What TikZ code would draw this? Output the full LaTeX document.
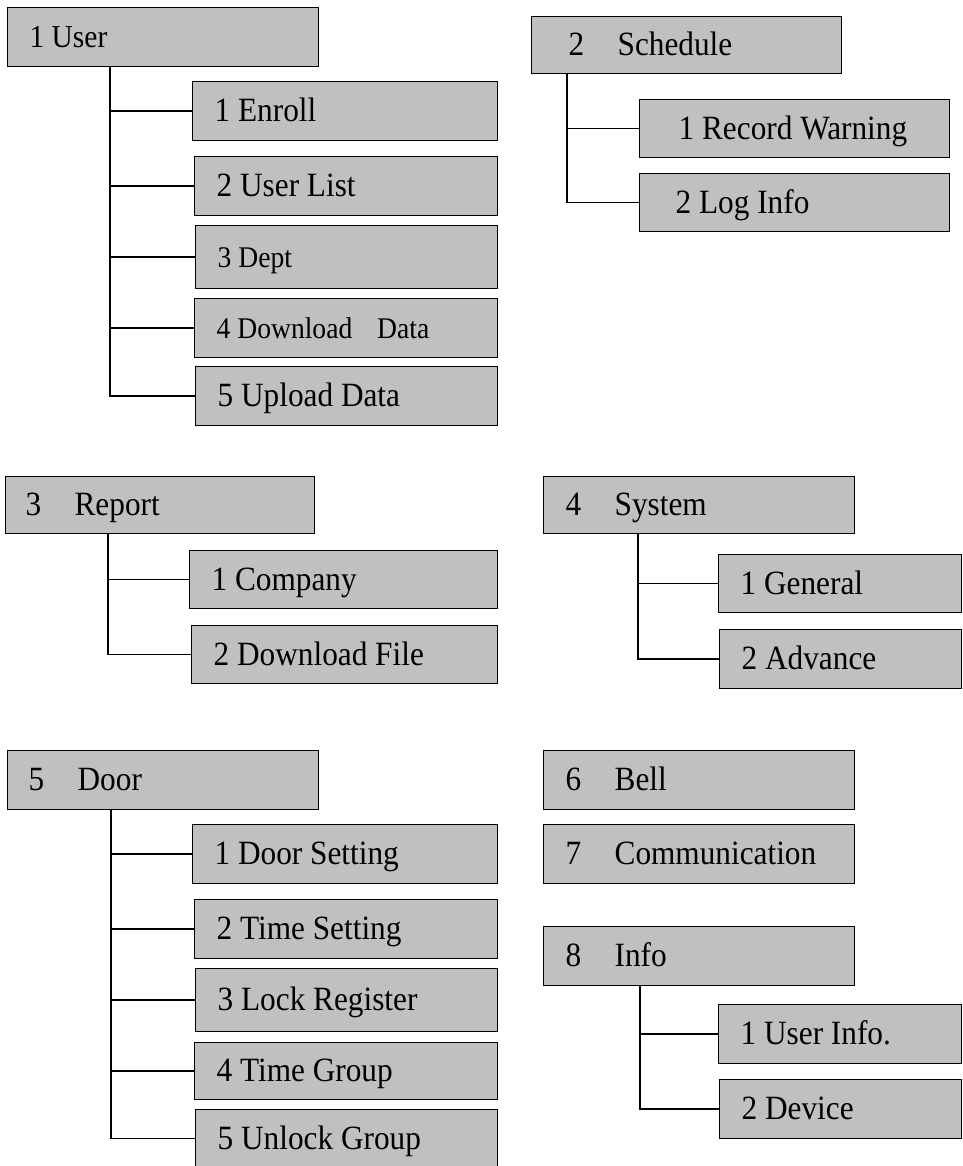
\documentclass[tikz,border=0pt]{standalone}
\usepackage{fontspec}
\setmainfont[FakeStretch=0.92]{Liberation Serif}
\usetikzlibrary{positioning,calc}
\definecolor{menugray}{RGB}{192,192,192}
\newcommand{\menunum}[1]{\makebox[49pt][l]{#1}}
\newlength{\menuinset}
\setlength{\menuinset}{22pt}
\tikzset{
  menubox/.style={shape=rectangle,draw,fill=menugray,line width=1.3pt,
    anchor=north west,inner xsep=0pt,inner ysep=0pt,minimum height=59pt,
    text width=#1,align=flush left,text height=29pt,text depth=8pt,
    font=\fontsize{34}{40}\selectfont,
    execute at begin node={\noindent\hspace*{\menuinset}}},
  indent/.code={\setlength{\menuinset}{#1}},
  smalltext/.style={font=\fontsize{30}{36}\selectfont},
  menuline/.style={line width=1.6pt}
}
\begin{document}
\begin{tikzpicture}[x=1pt,y=-1pt]
  \useasboundingbox (0,0) rectangle (962,1166);
  % 1 User
  \path (7,7) node (user) [menubox=311pt,font=\fontsize{32}{38}\selectfont] {1 User}
  (192,81) node (enroll) [menubox=305pt] {1 Enroll}
  (194,156) node (userlist) [menubox=303pt] {2 User List}
  (195,225) node (dept) [menubox=302pt,minimum height=63pt,smalltext] {3 Dept}
  (194,298) node (download) [menubox=303pt,smalltext] {4 Download\hspace{0.6em} Data}
  (195,366) node (upload) [menubox=302pt] {5 Upload Data};
  % 2 Schedule
  \path (531,16) node (schedule) [menubox=310pt,minimum height=57pt,indent=37pt] {\menunum{2}Schedule}
  (639,99) node (recwarn) [menubox=310pt,minimum height=58pt,indent=39pt] {1 Record Warning}
  (639,173) node (loginfo) [menubox=310pt,minimum height=58pt,indent=36pt] {2 Log Info};
  % 3 Report
  \path (5,476) node (report) [menubox=309pt,minimum height=57pt,indent=20pt] {\menunum{3}Report}
  (189,550) node (company) [menubox=308pt,minimum height=58pt] {1 Company}
  (191,625) node (dlfile) [menubox=306pt,minimum height=58pt] {2 Download File};
  % 4 System
  \path (543,476) node (system) [menubox=311pt,minimum height=57pt] {\menunum{4}System}
  (718,554) node (general) [menubox=243pt,minimum height=58pt] {1 General}
  (719,629) node (advance) [menubox=242pt] {2 Advance};
  % 5 Door
  \path (7,750) node (door) [menubox=311pt,indent=21pt] {\menunum{5}Door}
  (192,824) node (doorset) [menubox=305pt] {1 Door Setting}
  (194,899) node (timeset) [menubox=303pt] {2 Time Setting}
  (195,968) node (lockreg) [menubox=302pt,minimum height=63pt] {3 Lock Register}
  (194,1042) node (timegrp) [menubox=303pt,minimum height=57pt] {4 Time Group}
  (195,1109) node (unlockgrp) [menubox=302pt,minimum height=58pt] {5 Unlock Group};
  % 6 Bell, 7 Communication, 8 Info
  \path (543,750) node (bell) [menubox=311pt] {\menunum{6}Bell}
  (543,824) node (comm) [menubox=311pt] {\menunum{7}Communication}
  (543,926) node (info) [menubox=311pt] {\menunum{8}Info}
  (718,1004) node (userinfo) [menubox=243pt] {1 User Info.}
  (719,1079) node (device) [menubox=242pt] {2 Device};

  \coordinate (userbus) at ([xshift=103pt]user.south west);
  \coordinate (schedbus) at ([xshift=36pt]schedule.south west);
  \coordinate (reportbus) at ([xshift=103pt]report.south west);
  \coordinate (sysbus) at ([xshift=95pt]system.south west);
  \coordinate (doorbus) at ([xshift=104pt]door.south west);
  \coordinate (infobus) at ([xshift=97pt]info.south west);

  \draw[menuline] (userbus) |- (upload.west)
    (enroll.west) -- (enroll.west -| userbus)
    (userlist.west) -- (userlist.west -| userbus)
    (dept.west) -- (dept.west -| userbus)
    (download.west) -- (download.west -| userbus);
  \draw[menuline] (schedbus) |- (loginfo.west)
    (recwarn.west) -- (recwarn.west -| schedbus);
  \draw[menuline] (reportbus) |- (dlfile.west)
    (company.west) -- (company.west -| reportbus);
  \draw[menuline] (sysbus) |- (advance.west)
    (general.west) -- (general.west -| sysbus);
  \draw[menuline] (doorbus) |- (unlockgrp.west)
    (doorset.west) -- (doorset.west -| doorbus)
    (timeset.west) -- (timeset.west -| doorbus)
    (lockreg.west) -- (lockreg.west -| doorbus)
    (timegrp.west) -- (timegrp.west -| doorbus);
  \draw[menuline] (infobus) |- (device.west)
    (userinfo.west) -- (userinfo.west -| infobus);
\end{tikzpicture}
\end{document}
